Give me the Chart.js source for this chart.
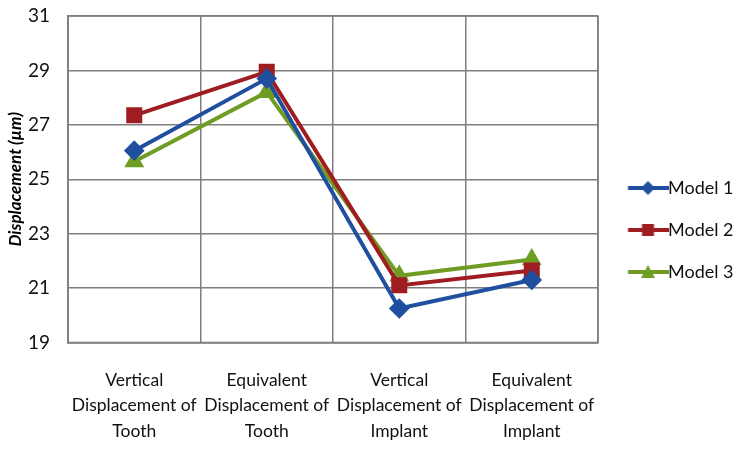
<!DOCTYPE html>
<html>
<head>
<meta charset="utf-8">
<script src="https://cdn.jsdelivr.net/npm/chart.js@4.4.0/dist/chart.umd.min.js"></script>
<style>
  html, body { margin: 0; padding: 0; background: #fff; }
  #wrap { width: 740px; height: 453px; }
</style>
</head>
<body>
<div id="wrap"><canvas id="chart" width="740" height="453"></canvas></div>
<script>
// categories (multi-line labels)
const categories = [
    ['Vertical', 'Displacement of', 'Tooth'],
    ['Equivalent', 'Displacement of', 'Tooth'],
    ['Vertical', 'Displacement of', 'Implant'],
    ['Equivalent', 'Displacement of', 'Implant']
];

// values (µm)
const model1 = [26.05, 28.7, 20.25, 21.3];
const model2 = [27.35, 28.95, 21.1, 21.65];
const model3 = [25.65, 28.2, 21.45, 22.05];

const yTicks = [19, 21, 23, 25, 27, 29, 31];

const seriesNames = ['Model 1', 'Model 2', 'Model 3'];
const seriesColors = ['#1f4f9e', '#9f1d20', '#6f9c23'];
const seriesMarkers = ['rectRot', 'rect', 'triangle'];

const FONT = 'Lato, "Open Sans", sans-serif';

// legend icon: line running up to the text, marker in its middle
function legendIcon(color, marker) {
    const c = document.createElement('canvas');
    c.width = 56; c.height = 18;
    const g = c.getContext('2d');
    const cx = 35.5;
    g.strokeStyle = color;
    g.lineWidth = 4;
    g.beginPath(); g.moveTo(15.5, 9); g.lineTo(56, 9); g.stroke();
    g.fillStyle = color;
    g.beginPath();
    if (marker === 'rect') {
        g.rect(cx - 6, 3, 12, 12);
    } else if (marker === 'rectRot') {
        g.moveTo(cx, 2); g.lineTo(cx + 7, 9); g.lineTo(cx, 16); g.lineTo(cx - 7, 9); g.closePath();
    } else {
        g.moveTo(cx, 2); g.lineTo(cx + 7, 15); g.lineTo(cx - 7, 15); g.closePath();
    }
    g.fill();
    return c;
}
const icons = seriesColors.map((c, i) => legendIcon(c, seriesMarkers[i]));

const allValues = [model1, model2, model3];
const datasets = allValues.map((vals, i) => ({
    label: seriesNames[i],
    data: vals,
    borderColor: seriesColors[i],
    backgroundColor: seriesColors[i],
    borderWidth: 4,
    pointStyle: seriesMarkers[i],
    pointRadius: seriesMarkers[i] === 'rect' ? 8.5 : 7.5,
    pointHoverRadius: 8,
    tension: 0,
    fill: false
}));

new Chart(document.getElementById('chart'), {
    type: 'line',
    data: { labels: categories, datasets: datasets },
    options: {
        responsive: false,
        animation: false,
        layout: { padding: { top: 0, right: 0, left: 0, bottom: 7 } },
        plugins: {
            tooltip: { enabled: false },
            legend: {
                position: 'right',
                maxWidth: 142,
                labels: {
                    usePointStyle: true,
                    pointStyleWidth: 37,
                    padding: 24,
                    color: '#111',
                    font: { family: FONT, size: 18 },
                    generateLabels: chart => {
                        const items = Chart.defaults.plugins.legend.labels.generateLabels(chart);
                        items.forEach((it, i) => { it.pointStyle = icons[i]; });
                        return items;
                    }
                }
            }
        },
        scales: {
            x: {
                offset: true,
                afterFit: axis => { axis.height = 103.5; },
                grid: { offset: true, color: '#7f7f7f', lineWidth: 1.5, drawTicks: false },
                border: { color: '#7f7f7f', width: 1.5 },
                ticks: {
                    color: '#111',
                    padding: 25,
                    maxRotation: 0,
                    autoSkip: false,
                    font: { family: FONT, size: 17.5, lineHeight: '25.5px' }
                }
            },
            y: {
                min: 19,
                max: 31,
                afterBuildTicks: axis => { axis.ticks = yTicks.map(v => ({ value: v })); },
                afterFit: axis => { axis.width = 68; axis.paddingTop = 16; axis.paddingBottom = 0; },
                grid: { color: '#7f7f7f', lineWidth: 1.5, drawTicks: false },
                border: { color: '#7f7f7f', width: 1.5 },
                ticks: {
                    color: '#111',
                    padding: 18,
                    font: { family: FONT, size: 19 }
                },
                title: {
                    display: true,
                    text: 'Displacement (µm)',
                    color: '#000',
                    padding: { top: 5, bottom: 0 },
                    font: { family: FONT, size: 17, weight: 'bold', style: 'italic' }
                }
            }
        }
    },
    plugins: [{
        // legend sits a little below the middle in the original
        id: 'legendShift',
        afterLayout(chart) {
            chart.legend.top += 7;
            chart.legend.bottom += 7;
        }
    }, {
        // frame round the plot area
        id: 'frame',
        afterDraw(chart) {
            const { ctx, chartArea: a } = chart;
            ctx.save();
            ctx.strokeStyle = '#7f7f7f';
            ctx.lineWidth = 1.5;
            ctx.strokeRect(a.left, a.top, a.right - a.left, a.bottom - a.top);
            ctx.restore();
        }
    }]
});
</script>
</body>
</html>
